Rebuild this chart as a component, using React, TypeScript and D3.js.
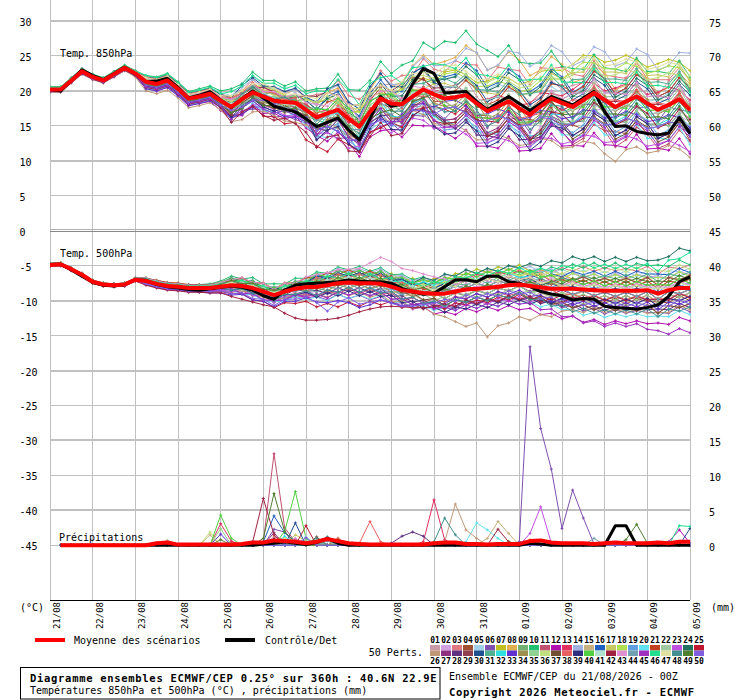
import * as d3 from "d3";
import React from "react";

// forecast steps, hours after 21/08 00Z
const hours = [0, 6, 12, 18, 24, 30, 36, 42, 48, 54, 60, 66, 72, 78, 84, 90, 96, 102, 108, 114, 120, 126, 132, 138, 144, 150, 156, 162, 168, 174, 180, 186, 192, 198, 204, 210, 216, 222, 228, 234, 240, 246, 252, 258, 264, 270, 276, 282, 288, 294, 300, 306, 312, 318, 324, 330, 336, 342, 348, 354, 360];
const dayHours = [0, 24, 48, 72, 96, 120, 144, 168, 192, 216, 240, 264, 288, 312, 336, 360];
const dayLabels = ["21/08", "22/08", "23/08", "24/08", "25/08", "26/08", "27/08", "28/08", "29/08", "30/08", "31/08", "01/09", "02/09", "03/09", "04/09", "05/09"];
const leftTicks = [30, 25, 20, 15, 10, 5, 0, -5, -10, -15, -20, -25, -30, -35, -40, -45];
const rightTicks = [75, 70, 65, 60, 55, 50, 45, 40, 35, 30, 25, 20, 15, 10, 5, 0];

const memberColors = [
  "#c89aa8", "#d0a0e0", "#e07880", "#a05030", "#a0d0e8", "#8050b0", "#c0c020", "#e0b050", "#70b070", "#20c070",
  "#c05070", "#b010b0", "#e03060", "#a0b0e0", "#c8b080", "#2060c0", "#c8c860", "#b0e050", "#60a0e0", "#60e0f0",
  "#c04020", "#a0c8a0", "#c050e0", "#207060", "#c01830", "#c09878", "#903080", "#603080", "#904050", "#205090",
  "#50b090", "#30e0e0", "#6030d0", "#a09050", "#90d090", "#c0e080", "#705030", "#e86060", "#303080", "#50d040",
  "#b0e0d0", "#a02040", "#e090d0", "#70a0b0", "#a030c0", "#20e090", "#e0e0a0", "#409090", "#508030", "#8060e0",
];

// 850 hPa temperature (°C)
const mean850 = [20.2, 20.2, 21.5, 22.8, 22, 21.5, 22.4, 23.3, 22.5, 21.3, 21, 21.5, 20.3, 18.9, 19.2, 19.6, 18.6, 17.7, 18.8, 19.8, 19.2, 18.6, 18.4, 18.3, 17.3, 16.2, 16.8, 17.3, 16, 14.9, 17, 18.9, 18.2, 18.1, 19.2, 20.2, 19.5, 18.9, 19.1, 19.4, 18.2, 17.1, 17.8, 18.5, 17.5, 16.6, 17.8, 18.9, 18.3, 17.7, 18.7, 19.7, 18.7, 17.7, 18.5, 19.2, 18.2, 17.3, 18, 18.8, 17.3];
const ctrl850 = [20.2, 20, 21.5, 23, 22.2, 21.6, 22.5, 23.4, 22.4, 21.3, 21.4, 21.8, 20.5, 19, 19.4, 19.9, 18.7, 17.6, 18.9, 20, 19, 17.8, 17.4, 17, 16, 14.9, 15.5, 16.1, 14.4, 13, 16, 19.2, 17.8, 18.1, 21, 23.2, 22.5, 19.7, 19.8, 19.9, 18.5, 17.3, 18.3, 19.2, 18.2, 17.2, 18.2, 19.2, 18.6, 18, 19, 19.9, 17, 14.9, 15, 14.2, 13.9, 13.7, 14, 16.2, 13.9];
const members850 = [
  [20.3, 20.2, 21.6, 22.9, 22.2, 21.6, 22.5, 23.4, 22.6, 21.6, 21.4, 21.8, 20.6, 19.2, 19.5, 19.9, 19, 18.6, 19.4, 20.9, 19.8, 19.7, 19.1, 19.5, 18.7, 18.5, 18.5, 20.3, 18.3, 16.2, 19.4, 20.8, 21, 20.3, 20.6, 22.9, 21, 19.7, 20.9, 21.6, 19.2, 17.6, 19.9, 20.4, 19.8, 18.4, 19.1, 21.5, 20.2, 20.8, 21.2, 23.4, 21.5, 19.8, 21.9, 22.4, 21.8, 19.4, 21.4, 22.6, 20.1],
  [20, 20, 21.3, 22.6, 21.8, 21.3, 22.2, 23.1, 22.3, 20.8, 20.6, 21, 19.8, 18.4, 18.6, 19.1, 17.9, 17.1, 17.6, 18.9, 17.9, 17.7, 17, 17.2, 15.3, 13.6, 14.8, 14.6, 13.9, 12, 14.1, 16.8, 15.2, 16.4, 16.1, 17.9, 15.8, 16, 15, 16.5, 14.1, 13.9, 13.7, 15.6, 14.5, 12.7, 14.9, 15.2, 16.4, 15.1, 17.2, 17.2, 17.5, 15.3, 16, 17.9, 16.6, 15, 16.5, 16.4, 15.6],
  [20.4, 20.3, 21.7, 23, 22.2, 21.7, 22.6, 23.5, 22.8, 21.8, 21.6, 22.2, 21, 19.6, 19.8, 20.3, 19.5, 19.2, 20, 21.6, 20.5, 20.4, 19.8, 20.3, 19.1, 19.5, 19.7, 21.5, 19.3, 18.8, 20.2, 22.9, 21.4, 22.2, 22.3, 24.6, 23.1, 22.7, 24.3, 23.8, 23.7, 21.5, 23.4, 23.1, 22.9, 20.9, 23.3, 23.2, 23.4, 22.4, 22.1, 24.3, 22.3, 22, 21.8, 24, 21.7, 21.6, 21.6, 23.3, 21.5],
  [20.1, 20.1, 21.4, 22.7, 21.9, 21.4, 22.3, 23.2, 22.4, 21, 20.7, 21.3, 20, 18.6, 19, 19.4, 18.4, 17.6, 19.3, 19.8, 19.7, 18.6, 18.9, 18.2, 17.9, 17.1, 16.9, 18.5, 16, 15.9, 17, 19.9, 18.1, 18.9, 19, 20.6, 18.5, 18.5, 17.5, 18.9, 16.5, 16.5, 16.1, 18, 15.8, 15.9, 15.6, 17.6, 15.3, 15.1, 14.6, 16.4, 14.3, 14.2, 13.9, 15.7, 13.8, 13.9, 13.5, 15.5, 12.9],
  [20.5, 20.5, 21.8, 23.1, 22.3, 21.8, 22.8, 23.6, 22.8, 22, 21.8, 22.3, 21.2, 19.7, 20, 20.5, 19.8, 19.3, 21.1, 22.1, 21, 20.3, 20.5, 19.7, 18.6, 17.9, 18.6, 17.8, 16.4, 16.3, 18.7, 19.3, 18.8, 19.9, 21.1, 21, 20.4, 21.6, 22.2, 21.4, 20.2, 20.1, 21, 20.4, 19.4, 19.8, 20.8, 20.6, 19.7, 19.6, 20.4, 20.1, 19.1, 19.2, 20, 19.6, 18.5, 18.8, 19.7, 19.3, 17.7],
  [20.2, 20.1, 21.5, 22.8, 22, 21.4, 22.3, 23.2, 22.3, 20.7, 20.3, 20.6, 19.5, 18.1, 18.4, 18.7, 17.6, 16, 17.2, 17.4, 17.4, 16.2, 16.5, 15.9, 15.4, 13, 14.1, 13.2, 13.3, 11.2, 14.1, 14.9, 15.5, 14, 16.5, 16.4, 17.1, 16, 17.6, 17, 16.9, 14.7, 16.6, 15.9, 16.2, 14, 16.7, 16.7, 17.6, 16, 18.1, 18, 18.4, 16.2, 18, 17.5, 17.7, 15.6, 17.7, 17.3, 17],
  [19.9, 19.9, 21.2, 22.5, 21.7, 21.2, 22.1, 23, 22.2, 21.3, 21.2, 21.8, 20.5, 19.1, 19.4, 19.8, 18.9, 18.4, 19.1, 20, 20, 19.4, 18.6, 18.6, 18.8, 18.2, 18.9, 18.2, 16.9, 17.1, 19.1, 19.8, 19.3, 20.5, 21.8, 21.8, 21.4, 22.7, 23, 22.3, 21.2, 21.4, 22.1, 21.8, 20.9, 21.4, 22.8, 23, 22.9, 23.8, 25.1, 25, 24.1, 24.4, 25.1, 24.4, 23.4, 23.9, 24.5, 24.1, 22.9],
  [20.4, 20.4, 21.7, 23, 22.2, 21.7, 22.6, 23.5, 22.7, 21.8, 21.5, 22, 20.8, 19.4, 19.7, 20.1, 19.2, 18.3, 20, 21.1, 20.1, 20.1, 19.5, 20.2, 19, 18, 19.8, 20.4, 18, 17, 20.2, 22.4, 20.8, 21.2, 23.6, 25.1, 23.8, 24.2, 24.8, 26.5, 25.4, 23, 23.6, 25.6, 24.4, 22.2, 23, 24.9, 23.8, 21.2, 21.7, 23.6, 22.6, 20.2, 20.8, 23, 21.8, 19.7, 20.5, 22.5, 21],
  [20.2, 20.2, 21.5, 22.8, 22, 21.5, 22.4, 23.3, 22.5, 21.1, 20.8, 21.3, 20.1, 18.7, 19, 19.4, 18.3, 17.4, 18, 19.5, 18.4, 18.3, 17.6, 18.1, 16.4, 15.8, 15.4, 17, 15.5, 13.3, 16.5, 17.5, 17.9, 17.1, 19.3, 19.5, 20.1, 19.8, 19.1, 20.4, 18.3, 18.2, 17.8, 19.5, 17.6, 17.7, 18, 20, 18.8, 19.6, 19.8, 21.7, 19.7, 19.8, 19.5, 21.1, 19.2, 19.3, 19, 20.9, 18.2],
  [20.6, 20.6, 21.9, 23.2, 22.4, 21.9, 22.8, 23.7, 22.9, 22.2, 22, 22.5, 21.3, 19.9, 20.3, 20.7, 20, 20.3, 21, 22.7, 21.5, 21.5, 20.7, 21.3, 20, 20.3, 20.4, 22.4, 20.2, 20.1, 21.5, 24.2, 22.5, 23.7, 24.3, 26.9, 26, 27.1, 26.9, 28.6, 26.7, 25.8, 24.9, 26.5, 24.1, 23.9, 24, 25.7, 23.5, 23.2, 23.1, 25.2, 23.3, 23.1, 22.8, 24.7, 22.8, 22.8, 22.5, 24.3, 22],
  [20, 20.1, 21.3, 22.6, 21.8, 21.3, 22.2, 23.1, 22.3, 21.3, 21, 21.5, 20.3, 18.9, 19.1, 19.4, 18.2, 16.7, 18.3, 19.2, 18, 17.4, 17.8, 17.1, 16.4, 14.3, 15.7, 16.4, 13.9, 12.8, 16, 17.9, 16, 15.8, 18, 19, 16.8, 15.8, 16, 17.3, 15.9, 13.7, 14.4, 16.1, 14.9, 12.6, 13.5, 15.2, 14.2, 12.3, 13.2, 15.2, 14.3, 12, 13, 14.8, 13.8, 11.8, 12.4, 14.4, 12.8],
  [19.9, 19.9, 21.2, 22.4, 21.7, 21.2, 22, 22.9, 22.1, 20.4, 20, 20.5, 19.3, 17.9, 18.2, 18.5, 17.2, 16.2, 16.5, 18, 16.8, 16.8, 16, 16.4, 14.7, 13.6, 12.8, 14.1, 12.6, 10.6, 13.4, 14.3, 14.5, 13.4, 15.1, 15, 15, 14.1, 13.2, 14.4, 12.1, 12.1, 11.8, 13.5, 11.4, 11.5, 11.8, 13.9, 12.1, 12.2, 12.1, 14, 12.3, 12.2, 11.9, 13.8, 11.7, 11.8, 11.5, 13.2, 11],
  [20.3, 20.3, 21.6, 22.9, 22.1, 21.6, 22.5, 23.4, 22.7, 21.7, 21.4, 21.9, 20.7, 19.3, 19.6, 20, 19, 18.9, 19.5, 20.5, 20.5, 19.8, 18.8, 18.6, 18, 16.9, 17.3, 16.6, 15.5, 15.4, 17.5, 18.2, 17.6, 18.9, 20.1, 20.1, 19.8, 20.4, 20.8, 19.8, 18.6, 18.8, 19.4, 18.8, 18, 18.2, 19.7, 19.6, 19.3, 20.2, 21.3, 21.1, 20, 20.4, 21, 20.7, 19.5, 19.8, 20.6, 20.1, 18.7],
  [20.4, 20.4, 21.7, 23, 22.2, 21.7, 22.6, 23.5, 22.8, 21.9, 21.6, 22.1, 20.9, 19.5, 19.8, 20.2, 19.3, 18.6, 20.5, 21.6, 20.5, 20.4, 19.7, 20.2, 19.1, 18.1, 20, 20.8, 18.4, 17.4, 20.6, 22.5, 20.9, 21, 23.5, 24.8, 23.6, 23.7, 24.3, 26.1, 25.5, 23, 23.7, 25.7, 25.4, 23.5, 24.4, 26.5, 25.6, 23.6, 24.3, 26.3, 25.6, 23.6, 24.1, 26, 25.2, 23, 23.6, 25.5, 25.4],
  [20.1, 20.1, 21.4, 22.7, 21.9, 21.4, 22.3, 23.2, 22.4, 20.9, 20.6, 21.1, 19.9, 18.5, 18.8, 19.1, 18, 16.9, 17.4, 18.8, 17.7, 17.7, 16.8, 17.3, 15.6, 14.8, 14.3, 15.9, 14.5, 12.4, 15.5, 16.5, 16.7, 15.6, 17.8, 17.7, 18.3, 17.8, 17.1, 18.5, 16.3, 16.1, 15.7, 17.5, 15.5, 15.5, 15.9, 18, 16.7, 17.3, 17.6, 19.6, 17.8, 17.6, 17.5, 19.3, 17.2, 17.3, 17.1, 18.8, 16.3],
  [20.4, 20.4, 21.7, 23, 22.2, 21.7, 22.6, 23.5, 22.7, 21.6, 21.3, 21.8, 20.6, 19.2, 19.5, 19.9, 18.9, 18, 19.7, 20.7, 19.5, 18.9, 19.3, 18.6, 18.7, 17.3, 19.2, 19.9, 17.5, 16.4, 19.6, 21.6, 19.7, 20, 22.4, 23.6, 22.4, 22, 22.4, 24, 22.9, 20.5, 21.2, 23.1, 22.1, 19.9, 20.9, 23.2, 22, 19.8, 20.7, 22.9, 21.8, 19.5, 20.4, 22.4, 21.3, 19.2, 19.9, 21.9, 20.4],
  [20.2, 20.2, 21.5, 22.8, 22, 21.5, 22.4, 23.3, 22.5, 21.4, 21.1, 21.6, 20.4, 19, 19.3, 19.7, 18.6, 17.6, 18.2, 19.7, 18.6, 18.6, 17.8, 18.3, 16.8, 17, 16.8, 18.4, 17, 14.9, 18, 18.9, 19.2, 18.1, 20.2, 20.3, 21, 21.1, 20.5, 22, 19.9, 19.7, 19.5, 21.1, 19.3, 19.7, 20.1, 22.5, 21.7, 22.6, 22.7, 24.7, 22.7, 22.7, 22.5, 24.2, 22.2, 22.3, 22, 23.8, 21.3],
  [20.3, 20.3, 21.6, 22.9, 22.1, 21.6, 22.5, 23.4, 22.6, 21.8, 21.5, 22, 20.8, 19.4, 19.7, 20.1, 19.1, 19.1, 19.7, 20.7, 20.7, 20.1, 19.3, 19.2, 18.9, 18.3, 18.9, 18.2, 16.9, 17, 19.1, 19.8, 19.1, 20.2, 21.5, 21.6, 21.1, 22.4, 22.7, 21.8, 20.6, 20.7, 21.4, 20.9, 19.9, 20.2, 21.5, 21.7, 21.7, 22.9, 24.1, 24, 23.2, 23.1, 24, 23.5, 22.5, 22.9, 23.6, 23.3, 21.7],
  [20, 20, 21.3, 22.6, 21.8, 21.3, 22.2, 23.1, 22.3, 20.7, 20.4, 20.9, 19.7, 18.3, 18.6, 19, 17.9, 16, 17.6, 18.5, 17.4, 16.8, 17.2, 16.5, 16, 13.4, 14.8, 15.3, 12.8, 11.8, 15.1, 17, 15, 15, 17.2, 18.2, 15.8, 14.4, 14.6, 15.9, 14.8, 12.5, 13.2, 15.1, 14.1, 12, 13.2, 15.5, 15, 14, 15.1, 17.3, 16.3, 14.1, 14.9, 16.8, 15.8, 13.7, 14.4, 16.4, 14.9],
  [19.9, 19.9, 21.2, 22.5, 21.7, 21.2, 22.1, 23, 22.2, 20.4, 20.1, 20.6, 19.4, 18, 18.3, 18.7, 17.7, 16.1, 16.7, 18.2, 17.1, 17.1, 16.3, 16.8, 15, 13.6, 13.3, 14.9, 13.5, 11.4, 14.5, 15.4, 15.7, 14.6, 16.7, 16.7, 16.5, 15.9, 15.1, 16.4, 14.2, 14.1, 13.8, 15.5, 13.5, 13.6, 13.7, 15.7, 13.7, 13.7, 13.6, 15.5, 13.7, 13.7, 13.5, 15.2, 13.2, 13.3, 13, 14.8, 12.3],
  [20.3, 20.3, 21.6, 22.9, 22.1, 21.6, 22.5, 23.4, 22.6, 21.5, 21.2, 21.7, 20.5, 19.1, 19.4, 19.8, 18.8, 17.8, 19.5, 20.5, 19.3, 18.7, 19.1, 18.4, 18.2, 16.7, 18.4, 18.9, 16.4, 15.4, 18.6, 20.5, 18.6, 18.6, 20.8, 21.8, 19.9, 19.7, 20, 21.5, 20.3, 18, 18.7, 20.6, 19.6, 17.5, 18.7, 21, 20.8, 19.7, 20.6, 22.8, 21.8, 19.6, 20.4, 22.3, 21.3, 19.2, 19.9, 21.9, 20.4],
  [20.2, 20.2, 21.5, 22.8, 22, 21.5, 22.4, 23.3, 22.5, 21, 20.7, 21.2, 20, 18.6, 18.9, 19.3, 18.3, 17.3, 17.9, 19.4, 18.3, 18.3, 17.5, 18, 16.5, 16.1, 15.8, 17.4, 16, 13.9, 17, 17.9, 18.2, 17.1, 19.2, 19.2, 19.8, 19.9, 19.1, 20.4, 18.2, 18.1, 17.8, 19.5, 17.5, 17.6, 17.8, 19.9, 18.3, 19.2, 19.2, 21.2, 19.2, 19.2, 19, 20.7, 18.7, 18.8, 18.5, 20.3, 17.8],
  [20, 20, 21.3, 22.6, 21.8, 21.3, 22.2, 23.1, 22.3, 20.6, 20.3, 20.8, 19.6, 18.2, 18.5, 18.9, 17.8, 16.5, 17, 18, 18, 17.4, 16.5, 16.4, 15.8, 13.9, 14, 13.1, 11.8, 12.1, 14.1, 14.8, 14, 15, 16.1, 15.8, 14.6, 14.8, 14.7, 13.8, 12.5, 12.6, 13.3, 12.9, 11.9, 12.1, 13.3, 13.2, 12.4, 12.8, 13.7, 13.5, 12.6, 12.8, 13.6, 13.1, 12.1, 12.4, 12.9, 12.2, 11.3],
  [20.5, 20.5, 21.8, 23.1, 22.3, 21.8, 22.7, 23.6, 22.8, 21.9, 21.6, 22.1, 20.9, 19.5, 19.8, 20.2, 19.2, 18.2, 19.8, 20.9, 19.7, 19.6, 18.9, 19.4, 18.6, 17.3, 18.9, 19.5, 16.9, 15.9, 19.1, 21, 19.2, 19.3, 21.6, 22.9, 21.4, 21.7, 22, 23.5, 22.3, 20, 20.7, 22.6, 21.6, 19.4, 20.6, 22.8, 21.7, 19.2, 20.1, 22.3, 21.3, 19.1, 19.9, 21.8, 20.8, 18.7, 19.4, 21.4, 19.9],
  [20.1, 20.1, 21.4, 22.7, 21.9, 21.4, 22.3, 23.2, 22.4, 20.8, 20.5, 21, 19.8, 18.4, 18.7, 19.1, 17.9, 16.4, 16.7, 17.8, 16.4, 16.3, 15.3, 15.5, 13, 12.1, 11.3, 13.1, 12.3, 11.3, 14.1, 14.7, 15.5, 14.8, 17.3, 17.5, 17.8, 17.4, 16.7, 18, 15.8, 15.7, 15.5, 17.2, 15.2, 15.4, 15.9, 18.3, 17.2, 18, 18.3, 20.4, 18.5, 18.5, 18.3, 20, 18, 18.1, 17.8, 19.6, 17.1],
  [19.8, 19.8, 21.1, 22.4, 21.6, 21.1, 22, 22.9, 22, 20, 19.6, 20.1, 19, 17.6, 17.9, 18.3, 17.3, 15.6, 15.9, 17, 17.1, 16.5, 15.7, 15.5, 15.1, 14.7, 15.4, 14.7, 13.4, 13.5, 15.6, 16.3, 15.5, 16.4, 17.2, 16.6, 15.3, 15.2, 15.2, 14.3, 13, 13, 13.7, 13.2, 12.2, 12.4, 13.2, 12.9, 11.8, 12, 12.8, 12.5, 11, 9.9, 11.6, 12, 11.1, 11.4, 12.2, 11.7, 10.5],
  [20.2, 20.2, 21.5, 22.8, 22, 21.5, 22.4, 23.3, 22.5, 21.6, 21.3, 21.8, 20.6, 19.2, 19.5, 19.9, 18.8, 17.4, 19.1, 20.1, 18.8, 18.1, 18.4, 17.6, 16.9, 14.3, 15.9, 16.4, 13.9, 12.9, 16.1, 18, 16.1, 16, 18.3, 19.2, 16.8, 15.8, 16, 17.5, 16.3, 14, 14.7, 16.6, 15.4, 13.3, 14.2, 16.4, 15.6, 13.6, 14.5, 16.8, 15.8, 13.6, 14.4, 16.3, 15.3, 13.2, 13.9, 15.9, 14.4],
  [20, 20, 21.3, 22.6, 21.8, 21.3, 22.2, 23.1, 22.3, 20.8, 20.5, 21, 19.8, 18.4, 18.7, 19.1, 18, 16.9, 17.5, 19, 17.9, 17.9, 17, 17.5, 15.7, 14.6, 14.3, 15.9, 14.5, 12.4, 15.5, 16.4, 16.6, 15.4, 17.3, 17.2, 16.9, 15.6, 14.6, 15.9, 13.7, 13.6, 13.3, 15, 13, 13.1, 13.4, 15.5, 14.3, 15.5, 15.7, 17.7, 15.7, 15.7, 15.5, 17.2, 15.2, 15.3, 15, 16.8, 14.3],
  [20.3, 20.3, 21.6, 22.9, 22.1, 21.6, 22.5, 23.4, 22.6, 21.5, 21.2, 21.7, 20.5, 19.1, 19.4, 19.8, 18.9, 18.8, 19.4, 20.5, 20.5, 19.9, 19.1, 19, 19.3, 19.2, 19.9, 19.2, 17.9, 18, 20.1, 20.8, 20, 21, 22, 21.6, 20.4, 20.5, 20.7, 19.8, 18.6, 18.7, 19.2, 18.6, 17.4, 17.5, 18.4, 18, 17, 17.3, 18.3, 18.1, 17.1, 17.3, 18.1, 17.6, 16.6, 16.9, 17.6, 17.2, 15.7],
  [20.4, 20.4, 21.7, 23, 22.2, 21.7, 22.6, 23.5, 22.7, 22, 21.8, 22.3, 21.1, 19.7, 20, 20.4, 19.5, 19, 20.8, 21.9, 20.7, 20.6, 19.9, 20.4, 19.1, 18.4, 20.3, 20.9, 18.4, 17.4, 20.6, 22.5, 20.6, 20.6, 22.6, 23.4, 21.2, 20.5, 20.6, 22, 20.8, 18.5, 19.2, 21.1, 20.1, 18, 19, 21.2, 20.6, 18.7, 19.6, 21.8, 20.8, 18.6, 19.4, 21.3, 20.3, 18.2, 18.9, 20.9, 19.4],
  [20.2, 20.2, 21.5, 22.8, 22, 21.5, 22.4, 23.3, 22.5, 21.1, 20.8, 21.3, 20.1, 18.7, 19, 19.4, 18.4, 18.2, 18.8, 20.3, 19.2, 19.2, 18.4, 18.9, 17.5, 17.6, 17.3, 18.9, 17.5, 15.4, 18.5, 19.4, 19.7, 18.6, 20.9, 21.1, 21.7, 21.8, 21.1, 22.4, 20.2, 20.1, 19.8, 21.5, 19.5, 19.6, 19.9, 22.1, 20.6, 21.6, 21.7, 23.7, 21.7, 21.7, 21.5, 23.2, 21.2, 21.3, 21, 22.8, 20.3],
  [20, 20, 21.3, 22.6, 21.8, 21.3, 22.2, 23.1, 22.3, 20.5, 20.2, 20.7, 19.5, 18.1, 18.4, 18.8, 17.8, 15.9, 17.6, 18.6, 17.4, 16.8, 17.2, 16.5, 16.3, 14.6, 16.4, 16.9, 14.4, 13.4, 16.6, 18.5, 16.4, 16.2, 18.2, 18.9, 16.4, 15.3, 15.5, 17, 15.8, 13.5, 14.2, 16.1, 15.1, 13, 14.3, 16.7, 16.6, 15.4, 16.6, 18.8, 17.8, 15.6, 16.4, 18.3, 17.3, 15.2, 15.9, 17.9, 16.4],
  [19.9, 19.9, 21.2, 22.5, 21.7, 21.2, 22.1, 23, 22.2, 20.3, 20, 20.5, 19.3, 17.9, 18.2, 18.6, 17.6, 16.2, 16.7, 17.7, 17.7, 17.1, 16.3, 16.2, 15.6, 14.5, 14.9, 14.2, 12.9, 13, 15.1, 16, 15.4, 16.7, 18, 18.2, 17.7, 18.5, 18.7, 17.8, 16.6, 16.7, 17.4, 16.9, 15.9, 16.2, 17.2, 17, 16, 16.3, 17.3, 17.1, 16.1, 16.3, 17.1, 16.6, 15.6, 15.9, 16.6, 16.2, 14.7],
  [20.3, 20.3, 21.6, 22.9, 22.1, 21.6, 22.5, 23.4, 22.6, 21.3, 21, 21.5, 20.3, 18.9, 19.2, 19.6, 18.5, 16.9, 18.6, 19.6, 18.4, 17.8, 18.2, 17.5, 16.9, 14.4, 15.9, 16.4, 13.9, 12.9, 16.1, 18, 16.1, 16.2, 18.5, 19.8, 18.2, 17.8, 18, 19.5, 18.3, 16, 16.7, 18.6, 17.6, 15.5, 16.7, 19, 18.4, 17.1, 18.1, 20.3, 19.3, 17.1, 17.9, 19.8, 18.8, 16.7, 17.4, 19.4, 17.9],
  [20.4, 20.4, 21.7, 23, 22.2, 21.7, 22.6, 23.5, 22.7, 21.7, 21.4, 21.9, 20.7, 19.3, 19.6, 20, 19, 18.7, 19.3, 20.8, 19.7, 19.7, 18.9, 19.4, 17.7, 17.1, 16.8, 18.4, 17, 14.9, 18, 18.9, 19.1, 17.9, 19.9, 19.7, 19.5, 18.4, 17.6, 18.9, 16.7, 16.6, 16, 17.5, 15.3, 15.3, 15.3, 17.2, 15.5, 15.7, 15.7, 17.7, 15.7, 15.7, 15.5, 17.2, 15.2, 15.3, 15, 16.8, 14.3],
  [20.2, 20.2, 21.5, 22.8, 22, 21.5, 22.4, 23.3, 22.5, 21.6, 21.3, 21.8, 20.6, 19.2, 19.5, 19.9, 18.9, 18.5, 19, 20, 20, 19.4, 18.6, 18.5, 18.7, 18.4, 19.3, 18.7, 17.4, 17.5, 19.6, 20.3, 19.6, 20.9, 22.1, 22.2, 21.8, 23, 23.2, 22.3, 21.1, 21.2, 21.9, 21.4, 20.4, 20.7, 22, 22, 21.5, 22.3, 23.3, 23.1, 22.1, 22.3, 23.1, 22.6, 21.6, 21.9, 22.6, 22.2, 20.7],
  [20.1, 20.1, 21.4, 22.7, 21.9, 21.4, 22.3, 23.2, 22.4, 21, 20.7, 21.2, 20, 18.6, 18.9, 19.3, 18.1, 16.6, 18.3, 19.3, 18.1, 17.5, 17.9, 17.2, 16.5, 13.7, 15.4, 15.9, 13.4, 12.4, 15.6, 17.5, 15.6, 15.6, 17.7, 18.7, 16.6, 15.4, 15.5, 17, 15.8, 13.5, 14.2, 16.1, 15.1, 13, 13.9, 16, 15.2, 13.1, 14.1, 16.3, 15.3, 13.1, 13.9, 15.8, 14.8, 12.7, 13.4, 15.4, 13.9],
  [20.5, 20.5, 21.8, 23.1, 22.3, 21.8, 22.7, 23.6, 22.8, 22, 21.7, 22.2, 21, 19.6, 19.9, 20.3, 19.2, 19, 19.7, 21.2, 19.9, 19.7, 18.7, 19, 17.2, 16.6, 16.3, 17.9, 16.5, 14.4, 17.5, 18.4, 18.7, 17.5, 19.4, 19.2, 19, 17.9, 17.1, 18.4, 16.2, 16.1, 16, 18, 16.1, 16.4, 16.8, 19.2, 18, 18.7, 18.7, 20.7, 18.7, 18.7, 18.5, 20.2, 18.2, 18.3, 18, 19.8, 17.3],
  [20, 20, 21.3, 22.6, 21.8, 21.3, 22.2, 23.1, 22.3, 20.7, 20.4, 20.9, 19.7, 18.3, 18.6, 19, 17.9, 16.2, 17.9, 18.9, 17.7, 17.1, 17.5, 16.8, 16.2, 13, 14.4, 14.9, 12.4, 11.4, 14.6, 16.5, 14.5, 14.4, 16.5, 17.4, 14.9, 13.8, 14, 15.5, 14.3, 12, 12.7, 14.6, 13.6, 11.5, 12.7, 15, 14.7, 13.6, 14.6, 16.8, 15.8, 13.6, 14.4, 16.3, 15.3, 13.2, 13.9, 15.9, 14.4],
  [20.3, 20.3, 21.6, 22.9, 22.1, 21.6, 22.5, 23.4, 22.6, 21.5, 21.2, 21.7, 20.5, 19.1, 19.4, 19.8, 18.8, 17.9, 18.5, 20, 18.9, 18.9, 18.1, 18.6, 17.3, 17.4, 17.3, 18.9, 17.5, 15.4, 18.5, 19.4, 19.5, 18.2, 20.1, 19.9, 19.5, 17.9, 17.1, 18.4, 16.2, 16.1, 15.8, 17.5, 15.5, 15.6, 15.9, 18, 16.8, 17.7, 17.7, 19.7, 17.7, 17.7, 17.5, 19.2, 17.2, 17.3, 17, 18.8, 16.3],
  [20.2, 20.2, 21.5, 22.8, 22, 21.5, 22.4, 23.3, 22.5, 21.2, 20.9, 21.4, 20.2, 18.8, 19.1, 19.5, 18.5, 18.2, 18.7, 19.7, 19.7, 19, 18.1, 17.9, 17.3, 16.3, 16.9, 16.2, 14.9, 15, 17.1, 17.8, 17.2, 18.4, 19.7, 19.8, 19.6, 20.5, 20.7, 19.8, 18.6, 18.7, 19.2, 18.6, 17.4, 17.6, 18.4, 18, 17, 17.3, 18.3, 18.1, 17.1, 17.3, 18.1, 17.6, 16.6, 16.9, 17.6, 17.2, 15.7],
  [19.9, 19.9, 21.2, 22.5, 21.7, 21.2, 22.1, 23, 22.2, 20.5, 20.2, 20.7, 19.5, 18.1, 18.4, 18.8, 17.6, 15.5, 17, 17.8, 16.5, 15.8, 16.1, 15.3, 14.1, 11.9, 13.4, 13.7, 11.4, 11.3, 13.5, 15.5, 13.6, 13.9, 16.4, 17.6, 15.7, 15.3, 15.5, 17, 15.8, 13.5, 14.2, 16.1, 15.1, 13, 14.4, 17, 16.7, 15.2, 16.1, 18.3, 17.3, 15.1, 15.9, 17.8, 16.8, 14.7, 15.4, 17.4, 15.9],
  [20.4, 20.4, 21.7, 23, 22.2, 21.7, 22.6, 23.5, 22.7, 21.8, 21.5, 22, 20.8, 19.4, 19.7, 20.1, 19.1, 18.8, 19.5, 21, 19.9, 19.9, 19.1, 19.6, 18.3, 18.1, 17.8, 19.4, 18, 15.9, 19, 19.9, 20.1, 18.8, 20.7, 20.4, 20.1, 19.4, 18.6, 19.9, 17.7, 17.6, 17.3, 19, 17, 17.1, 17.6, 20, 18.8, 19.7, 19.7, 21.7, 19.7, 19.7, 19.5, 21.2, 19.2, 19.3, 19, 20.8, 18.3],
  [20.1, 20.1, 21.4, 22.7, 21.9, 21.4, 22.3, 23.2, 22.4, 21.1, 20.8, 21.3, 20.1, 18.7, 19, 19.4, 18.4, 17.5, 18, 19, 19, 18.4, 17.6, 17.5, 17.1, 15.8, 16.4, 15.7, 14.4, 14.5, 16.6, 17.3, 16.6, 17.7, 18.8, 18.6, 17.4, 17.5, 17.7, 16.8, 15.6, 15.7, 16.4, 15.9, 14.9, 15.2, 16.4, 16.3, 15.3, 15.3, 16.3, 16.1, 15.1, 15.3, 16.1, 15.6, 14.6, 14.9, 15.6, 15.2, 13.7],
  [20, 20, 21.3, 22.6, 21.8, 21.3, 22.2, 23.1, 22.3, 20.6, 20.3, 20.8, 19.6, 18.2, 18.5, 18.9, 17.9, 15.9, 17.6, 18.6, 17.4, 16.8, 17.2, 16.5, 15.9, 13.7, 15.4, 15.9, 13.4, 12.4, 15.6, 17.5, 15.6, 15.6, 17.6, 18.4, 15.8, 14.8, 15, 16.5, 15.3, 13, 13.7, 15.6, 14.6, 12.5, 13.2, 15.2, 14.1, 12.6, 13.6, 15.8, 14.8, 12.6, 13.4, 15.3, 14.3, 12.2, 12.9, 14.9, 13.4],
  [20.5, 20.5, 21.8, 23.1, 22.3, 21.8, 22.7, 23.6, 22.8, 22.2, 21.9, 22.4, 21.2, 19.8, 20.1, 20.5, 19.6, 19.9, 20.7, 22.2, 21.1, 21.1, 20.3, 20.8, 19.6, 20, 19.9, 21.6, 20.1, 18, 21.1, 21.9, 22.2, 21.1, 23.3, 23.5, 23.9, 23.7, 23.2, 24.7, 22.4, 22.2, 21.8, 23.7, 21.5, 21.6, 21.7, 23.7, 21.3, 21.2, 21.2, 23.2, 21.2, 21.2, 21, 22.7, 20.7, 20.8, 20.5, 22.3, 19.8],
  [20.3, 20.3, 21.6, 22.9, 22.1, 21.6, 22.5, 23.4, 22.6, 21.9, 21.6, 22.1, 20.9, 19.5, 19.8, 20.2, 19.3, 19.3, 20, 21, 21, 20.4, 19.6, 19.5, 19.2, 18.9, 19.8, 19.2, 17.9, 18, 20.1, 20.8, 20.1, 21.3, 22.5, 22.6, 22.4, 23.5, 23.7, 22.8, 21.6, 21.7, 22.4, 21.9, 20.9, 21.2, 22.9, 23.3, 23, 23.8, 24.8, 24.6, 23.6, 23.8, 24.6, 24.1, 23.1, 23.4, 24.1, 23.7, 22.2],
  [20.2, 20.2, 21.5, 22.8, 22, 21.5, 22.4, 23.3, 22.5, 21.3, 21, 21.5, 20.3, 18.9, 19.2, 19.6, 18.7, 17.8, 19.6, 20.6, 19.4, 18.8, 19.1, 18.3, 17.6, 15.2, 16.9, 17.4, 14.9, 13.9, 17.1, 19, 17.1, 17.1, 19.2, 20.2, 18, 17, 17.1, 18.5, 17.3, 15, 15.7, 17.6, 16.6, 14.5, 15.7, 18, 17.8, 16.1, 17.1, 19.3, 18.3, 16.1, 16.9, 18.8, 17.8, 15.7, 16.4, 18.4, 16.9],
  [20.1, 20.1, 21.4, 22.7, 21.9, 21.4, 22.3, 23.2, 22.4, 20.9, 20.6, 21.1, 19.9, 18.5, 18.8, 19.2, 18.1, 16.9, 17.5, 19, 17.9, 17.9, 17.1, 17.6, 15.7, 15.1, 14.8, 16.4, 15, 12.9, 16, 16.9, 17.3, 16.3, 18.5, 19, 19.6, 19.4, 18.6, 19.9, 17.7, 17.6, 17.3, 19, 17, 17.1, 16.9, 18.6, 16.6, 16.7, 16.7, 18.7, 16.7, 16.7, 16.5, 18.2, 16.2, 16.3, 16, 17.8, 15.3],
  [20, 20, 21.3, 22.6, 21.8, 21.3, 22.2, 23.1, 22.3, 20.8, 20.5, 21, 19.8, 18.4, 18.7, 19.1, 18, 17.2, 17.7, 18.7, 18.7, 18.1, 17.3, 17.2, 16.2, 14.3, 14.9, 14.2, 12.9, 13, 15.1, 15.8, 15.1, 16.2, 17.3, 17.1, 16.7, 17.5, 17.7, 16.8, 15.6, 15.7, 16.4, 15.9, 14.9, 15.2, 16.2, 16, 14.9, 15.3, 16.3, 16.1, 15.1, 15.3, 16.1, 15.6, 14.6, 14.9, 15.6, 15.2, 13.7],
];

// 500 hPa temperature (°C)
const mean500 = [-4.9, -4.8, -5.5, -6.3, -7.3, -7.7, -7.8, -7.7, -7, -7.2, -7.6, -7.9, -8, -8.2, -8.2, -8.2, -8, -7.8, -7.9, -8.2, -8.7, -9.2, -8.7, -8.3, -8.1, -8, -7.8, -7.5, -7.4, -7.5, -7.5, -7.6, -8, -8.5, -8.7, -8.9, -9, -9, -8.7, -8.4, -8.3, -8.2, -8, -7.8, -7.7, -7.9, -8.1, -8.3, -8.3, -8.3, -8.4, -8.5, -8.6, -8.6, -8.6, -8.6, -8.5, -9, -8.5, -8.2, -8.2];
const ctrl500 = [-4.8, -4.8, -5.6, -6.5, -7.4, -7.8, -7.9, -7.7, -7, -7.1, -7.7, -8, -8.2, -8.4, -8.5, -8.3, -8.1, -7.9, -8.1, -8.5, -9.3, -9.8, -8.5, -7.8, -7.6, -7.5, -7.4, -7.3, -7.05, -7.2, -7.3, -7.3, -7.5, -8.25, -8.7, -9.1, -8.95, -8, -7.05, -7, -7.3, -6.5, -6.5, -7.3, -7.5, -8, -8.7, -9.05, -9.3, -9.9, -9.7, -9.8, -10.8, -11, -11.1, -11.2, -11, -10.6, -9.4, -7.3, -6.6];
const members500 = [
  [-4.8, -4.7, -5.4, -6.2, -7.2, -7.6, -7.6, -7.5, -6.9, -6.9, -7.2, -7.6, -7.7, -7.8, -7.9, -7.8, -7.5, -7.2, -6.9, -7.6, -7.6, -8.4, -7.7, -7.7, -6.8, -6.3, -6.6, -5.6, -6.1, -5.5, -6.5, -5.7, -6.8, -6.5, -7.4, -6.9, -7.5, -6.6, -7.1, -6, -6.6, -5.7, -6.2, -5.5, -5.9, -6.3, -5.9, -6.7, -6.2, -7.2, -6.6, -7.4, -6.9, -7.4, -6.5, -7.6, -6.7, -7.8, -6.7, -7.1, -6.5],
  [-5.1, -5, -5.7, -6.6, -7.5, -7.9, -8, -7.9, -7.2, -7.4, -7.9, -8.2, -8.3, -8.5, -8.6, -8.5, -8.3, -8.1, -8.6, -8.4, -9.4, -9.6, -9.5, -8.7, -9.1, -8.6, -9.1, -8.2, -8.7, -8.1, -8.9, -8.1, -9.3, -8.8, -9.4, -8.5, -8.9, -8.1, -8.5, -7.5, -8.1, -7.2, -7.8, -6.9, -7.4, -7, -7.6, -6.7, -7.1, -6.1, -6.8, -6.2, -6.9, -5.9, -7, -6.2, -6.6, -6.5, -6.8, -5.8, -6.3],
  [-4.9, -4.8, -5.5, -6.3, -7.2, -7.6, -7.7, -7.6, -6.9, -7, -7.4, -7.7, -7.8, -8, -8, -8, -7.7, -7.6, -7.2, -7.8, -7.9, -8.7, -7.9, -7.9, -7.2, -7.5, -6.7, -7.1, -6.3, -7, -6.5, -7.1, -6.9, -8, -7.5, -8.2, -7.5, -7.9, -7, -7.2, -6.5, -7, -6.2, -6.6, -5.7, -6.3, -5.6, -6, -5.3, -5.8, -5.1, -5.8, -5.3, -5.7, -5.4, -5.8, -5.1, -6.2, -5.2, -5.4, -4.9],
  [-4.7, -4.6, -5.3, -6.1, -7.1, -7.5, -7.6, -7.5, -6.8, -6.8, -7.2, -7.5, -7.6, -7.8, -7.8, -7.8, -7.6, -7.1, -7.6, -7.5, -8.4, -8.5, -8.4, -7.6, -7.8, -7, -7.2, -6.3, -6.6, -6.2, -6.9, -6.3, -7.3, -7.3, -8.3, -8.2, -9.1, -8.7, -9, -8.1, -8.6, -7.8, -8.3, -7.5, -8, -7.7, -8.6, -8.4, -9.3, -9, -9.9, -9.6, -10.4, -9.7, -10.5, -9.7, -10.1, -10.2, -10.3, -9.3, -10],
  [-5, -4.9, -5.6, -6.4, -7.4, -7.8, -7.9, -7.8, -7.1, -7.2, -7.6, -7.9, -8, -8.2, -8.2, -8.2, -7.9, -7.7, -7.3, -8, -8.1, -9, -8, -8, -7.2, -6.8, -7.1, -6.1, -6.5, -6, -6.5, -6, -7, -6.9, -7.6, -7.1, -7.5, -7.2, -6.2, -6.3, -5.5, -5.9, -5.1, -5.6, -4.8, -5.7, -5.3, -6.1, -5.5, -6.2, -5.7, -6.3, -5.9, -6.3, -5.8, -6.5, -5.7, -6.7, -5.7, -5.9, -5.4],
  [-4.9, -4.8, -5.5, -6.3, -7.3, -7.7, -7.8, -7.7, -7.1, -7.5, -8, -8.3, -8.4, -8.6, -8.7, -8.7, -8.6, -8.4, -9, -9, -9.9, -10, -10, -9.2, -9.4, -9.1, -9.6, -8.7, -9.2, -8.7, -9.3, -8.8, -9.8, -9.7, -10.6, -10.4, -11.2, -10.7, -11.1, -10.2, -10.6, -9.9, -10.3, -9.5, -10, -9.6, -10.4, -10.1, -11, -10.7, -11.5, -11.1, -11.9, -11.3, -11.8, -11.4, -11.7, -11.7, -11.8, -10.9, -11.6],
  [-4.8, -4.7, -5.4, -6.2, -7.2, -7.6, -7.7, -7.6, -6.9, -6.9, -7.3, -7.6, -7.6, -7.8, -7.8, -7.7, -7.4, -7.1, -6.7, -7.4, -7.5, -8.3, -7.5, -7.4, -6.7, -6.8, -6, -6.3, -5.6, -6.3, -5.7, -6.4, -6.1, -7.2, -6.8, -7.5, -6.8, -7.1, -6.1, -6.3, -5.5, -6, -5.2, -5.6, -4.9, -5.8, -5.5, -6.4, -6.1, -7, -6.6, -7.3, -6.8, -7.3, -6.9, -7.3, -6.6, -7.8, -6.7, -7, -6.3],
  [-4.7, -4.6, -5.3, -6.1, -7.1, -7.5, -7.6, -7.5, -6.8, -6.8, -7.1, -7.4, -7.5, -7.7, -7.7, -7.7, -7.3, -6.8, -7.3, -7.2, -8.1, -8.2, -8.2, -7.5, -7.7, -7.1, -7.6, -6.7, -7.2, -6.7, -7.3, -6.8, -7.9, -7.7, -8.3, -7.7, -8.2, -7.6, -7.9, -7.1, -7.6, -6.9, -7.3, -6.6, -7.1, -6.8, -7.7, -7.3, -8.2, -7.9, -8.7, -8.2, -8.9, -8.4, -8.8, -8.4, -8.7, -8.7, -8.8, -7.8, -8.6],
  [-5, -4.9, -5.6, -6.4, -7.4, -7.8, -7.9, -7.8, -7.1, -7, -7.4, -7.7, -7.8, -8, -8, -8, -7.6, -7.5, -7.2, -7.9, -8, -8.9, -8, -8, -7.3, -7.5, -6.7, -7.1, -6.3, -7, -6.3, -7.1, -7, -8.3, -8.1, -9.1, -8.9, -9.7, -8.9, -9.3, -8.6, -9, -8.2, -8.6, -7.9, -8.9, -8.6, -9.5, -9.2, -10, -9.6, -10.3, -9.8, -10.5, -9.7, -10.5, -9.6, -10.8, -9.7, -9.9, -9.4],
  [-4.9, -4.8, -5.5, -6.3, -7.3, -7.7, -7.7, -7.6, -6.9, -6.9, -7.3, -7.6, -7.6, -7.8, -7.7, -7.6, -7.2, -6.5, -6.9, -6.7, -7.6, -7.6, -7.6, -6.8, -6.8, -5.9, -6.1, -5.2, -5.6, -5.1, -5.8, -5.3, -6.3, -6.2, -7, -6.6, -7.4, -6.9, -7.4, -6.6, -7.1, -6.4, -6.8, -6, -6.3, -5.7, -6.1, -5.2, -5.6, -4.8, -5.3, -4.6, -5.4, -4.6, -5.5, -4.7, -5, -4.9, -5.1, -4.2, -4.9],
  [-5.1, -5, -5.7, -6.5, -7.5, -7.9, -8, -7.9, -7.2, -7.6, -8.1, -8.4, -8.5, -8.7, -8.7, -8.7, -8.6, -8.8, -8.6, -9.3, -9.4, -10.3, -9.5, -9.6, -9, -9.5, -8.7, -9, -8.3, -9, -8.4, -9.1, -8.9, -10, -9.6, -10.3, -9.7, -10.2, -9.4, -9.7, -9, -9.5, -8.8, -9.3, -8.8, -9.8, -9.6, -10.6, -10.3, -11.1, -10.6, -11.3, -10.8, -11.4, -10.7, -11.5, -10.6, -11.8, -10.7, -11, -10.5],
  [-4.8, -4.7, -5.4, -6.2, -7.2, -7.6, -7.7, -7.6, -6.9, -7.2, -7.6, -7.9, -8, -8.2, -8.2, -8.3, -8.2, -8, -8.6, -8.5, -9.5, -9.6, -9.7, -9.1, -9.6, -9.4, -9.9, -9.1, -9.7, -9.2, -9.9, -9.4, -10.4, -10.3, -11.2, -10.9, -11.9, -11.6, -12, -11.1, -11.6, -10.9, -11.4, -10.7, -11.3, -11.1, -12, -11.8, -12.6, -12.2, -13.1, -12.7, -13.4, -12.9, -13.3, -12.9, -13.3, -13.2, -13.4, -12.4, -12.9],
  [-4.9, -4.8, -5.5, -6.3, -7.3, -7.7, -7.8, -7.6, -6.9, -7, -7.4, -7.7, -7.8, -8, -8, -8, -7.7, -7.7, -7.4, -8.1, -8.2, -9.1, -8.2, -8.2, -7.5, -7.5, -6.6, -6.8, -6.1, -6.8, -6.2, -6.9, -6.7, -7.8, -7.4, -8.2, -7.4, -7.7, -6.7, -7, -6.2, -6.7, -5.9, -6.3, -5.7, -6.6, -6.3, -7.2, -6.9, -7.6, -7.1, -7.8, -7.3, -7.9, -7.2, -8, -7.2, -8.3, -7.2, -7.5, -6.9],
  [-4.8, -4.7, -5.4, -6.2, -7.2, -7.6, -7.6, -7.5, -6.8, -6.8, -7.2, -7.5, -7.6, -7.8, -7.8, -7.7, -7.4, -6.7, -7.2, -7.1, -8, -8, -8, -7.2, -7.2, -6.1, -6.3, -5.4, -5.9, -5.4, -6, -5.5, -6.5, -6.4, -7.2, -6.7, -7.2, -6.3, -6.5, -5.6, -6.1, -5.4, -5.8, -5, -5.5, -5.1, -5.9, -5.5, -6.3, -5.9, -6.6, -6.2, -6.9, -6.2, -6.9, -6.3, -6.7, -6.7, -6.8, -5.9, -6.5],
  [-5, -4.9, -5.6, -6.4, -7.4, -7.8, -7.9, -7.8, -7.1, -7.4, -7.8, -8.1, -8.2, -8.4, -8.4, -8.3, -8, -8, -7.7, -8.4, -8.5, -9.4, -8.6, -8.6, -8.2, -8.7, -8, -8.3, -7.6, -8.3, -7.7, -8.4, -8.3, -9.4, -9.1, -10, -9.7, -10.7, -9.9, -10.2, -9.5, -10, -9.2, -9.6, -8.8, -9.5, -8.9, -9.5, -8.8, -9.3, -8.7, -9.3, -8.8, -9.4, -8.7, -9.5, -8.7, -9.8, -8.7, -9, -8.4],
  [-4.7, -4.6, -5.3, -6.1, -7.1, -7.5, -7.6, -7.5, -6.8, -6.9, -7.3, -7.6, -7.7, -7.9, -7.9, -7.9, -7.6, -7, -7.5, -7.4, -8.3, -8.3, -8.3, -7.4, -7.4, -6.4, -6.7, -5.7, -6.2, -5.7, -6.3, -5.8, -6.9, -6.9, -7.8, -7.5, -8.2, -7.7, -8, -7.1, -7.6, -6.9, -7.3, -6.5, -6.9, -6.3, -6.9, -6.2, -6.6, -5.8, -6.3, -5.8, -6.5, -5.8, -6.5, -5.8, -6.2, -6.2, -6.3, -5.4, -6],
  [-4.9, -4.8, -5.5, -6.3, -7.3, -7.7, -7.8, -7.7, -7, -7.1, -7.5, -7.8, -7.9, -8.1, -8.1, -8.1, -7.8, -7.6, -7.3, -8, -8.1, -8.9, -8.1, -8.1, -7.4, -7.6, -6.8, -7, -6.3, -7, -6.4, -7.1, -6.9, -8, -7.5, -8.1, -7.2, -7.5, -6.5, -6.7, -6, -6.5, -5.7, -6.1, -5.5, -6.4, -6.1, -7.1, -6.8, -7.6, -7.1, -7.8, -7.3, -7.9, -7.3, -7.9, -7.2, -8.3, -7.2, -7.5, -6.9],
  [-5, -4.9, -5.6, -6.4, -7.4, -7.8, -7.9, -7.8, -7.1, -7, -7.4, -7.7, -7.8, -8, -8, -8, -7.6, -7, -7.5, -7.4, -8.3, -8.4, -8.3, -7.5, -7.5, -6.8, -7.1, -6.2, -6.6, -6.1, -6.8, -6.3, -7.3, -7.2, -8, -7.5, -8.1, -7.3, -7.5, -6.6, -7.1, -6.4, -6.8, -6, -6.5, -6.1, -6.8, -6.3, -6.8, -6.1, -6.7, -6.2, -6.9, -6.3, -6.9, -6.3, -6.8, -6.7, -6.8, -5.9, -6.5],
  [-4.8, -4.7, -5.4, -6.2, -7.2, -7.6, -7.7, -7.6, -6.9, -7.5, -7.9, -8.2, -8.3, -8.5, -8.5, -8.6, -8.5, -8.7, -8.5, -9.2, -9.3, -10.2, -9.4, -9.4, -8.8, -9.3, -8.5, -8.8, -8.1, -8.8, -8.1, -8.7, -8.3, -9.2, -8.5, -8.9, -8.2, -8.7, -7.8, -8.2, -7.5, -8, -7.2, -7.6, -6.9, -7.7, -7.3, -8.1, -7.5, -8.1, -7.6, -8.3, -7.8, -8.4, -7.8, -8.4, -7.7, -8.8, -7.7, -8, -7.4],
  [-4.9, -4.8, -5.5, -6.3, -7.3, -7.7, -7.8, -7.7, -7, -7.4, -7.8, -8.1, -8.2, -8.4, -8.4, -8.5, -8.4, -8.4, -9.1, -9.1, -10, -10.1, -10.1, -9.4, -9.8, -9.5, -10, -9.1, -9.7, -9.2, -9.8, -9.3, -10.3, -10.2, -11, -10.6, -11.4, -11, -11.4, -10.6, -11.1, -10.4, -10.8, -10, -10.5, -10.1, -10.9, -10.5, -11.3, -11.2, -12.1, -11.7, -12.4, -11.9, -12.3, -11.9, -12.3, -12.2, -12.3, -11.4, -12],
  [-4.7, -4.6, -5.3, -6.1, -7.1, -7.5, -7.6, -7.5, -6.8, -6.8, -7.1, -7.4, -7.5, -7.7, -7.7, -7.7, -7.4, -7.1, -6.8, -7.4, -7.5, -8.4, -7.5, -7.5, -6.7, -6.8, -6, -6.3, -5.6, -6.3, -5.8, -6.5, -6.5, -7.7, -7.5, -8.4, -8, -8.7, -7.9, -8.2, -7.5, -8, -7.2, -7.6, -6.9, -7.7, -7.1, -7.7, -7, -7.6, -7.1, -7.8, -7.3, -7.9, -7.3, -7.9, -7.2, -8.3, -7.2, -7.5, -6.9],
  [-5, -4.9, -5.6, -6.4, -7.4, -7.8, -7.9, -7.8, -7.1, -7.2, -7.6, -7.9, -8, -8.2, -8.2, -8.2, -7.8, -7.4, -7.9, -7.8, -8.7, -8.8, -8.8, -8.1, -8.6, -8.2, -8.6, -7.7, -8.2, -7.7, -8.3, -7.8, -8.8, -8.7, -9.5, -9.1, -9.9, -9.5, -9.9, -9, -9.5, -8.8, -9.2, -8.4, -8.9, -8.6, -9.5, -9.2, -10, -9.7, -10.5, -10.1, -10.8, -10.2, -10.7, -10.3, -10.7, -10.6, -10.8, -9.9, -10.5],
  [-4.9, -4.8, -5.5, -6.3, -7.3, -7.7, -7.8, -7.7, -7, -7.5, -8, -8.3, -8.4, -8.6, -8.6, -8.6, -8.5, -8.7, -8.5, -9.2, -9.3, -10.2, -9.3, -9.3, -8.8, -9.3, -8.5, -8.8, -8.1, -8.8, -8.2, -8.9, -8.7, -9.8, -9.5, -10.5, -10.3, -11.2, -10.4, -10.7, -10, -10.5, -9.7, -10.1, -9.4, -10.2, -9.7, -10.3, -9.7, -10.2, -9.6, -10.3, -9.8, -10.4, -9.8, -10.4, -9.7, -10.8, -9.7, -10, -9.4],
  [-4.8, -4.7, -5.4, -6.2, -7.2, -7.6, -7.7, -7.6, -6.9, -6.9, -7.3, -7.6, -7.7, -7.9, -7.9, -7.9, -7.5, -6.9, -7.4, -7.3, -8.2, -8.3, -8.2, -7.4, -7.5, -6.7, -7.1, -6.2, -6.7, -6.2, -6.8, -6.3, -7.2, -7, -7.5, -6.7, -7.1, -6.2, -6.5, -5.6, -6.1, -5.4, -5.8, -5, -5.3, -4.7, -5.1, -4.3, -4.6, -3.7, -4.2, -3.7, -4.4, -3.8, -4.4, -3.8, -4.3, -4.2, -3.7, -2.5, -2.9],
  [-5.1, -5, -5.7, -6.5, -7.5, -7.9, -8, -7.9, -7.2, -7.6, -8.1, -8.4, -8.5, -8.7, -8.7, -8.8, -8.7, -9, -9, -9.9, -10.1, -11, -10.3, -10.4, -10.1, -10.9, -10.4, -10.9, -10.2, -10.8, -10.1, -10.6, -10.1, -11, -10.5, -11.2, -10.6, -11.2, -10.3, -10.6, -9.9, -10.3, -9.5, -9.9, -9.1, -9.9, -9.3, -9.9, -9.2, -9.7, -9.2, -9.8, -9.3, -9.9, -9.3, -9.9, -9.2, -10.3, -9.2, -9.5, -8.9],
  [-5, -4.9, -5.6, -6.4, -7.4, -7.8, -7.9, -7.8, -7.1, -7.4, -7.9, -8.2, -8.3, -8.5, -8.5, -8.5, -8.3, -8.2, -8.7, -8.7, -9.6, -9.7, -9.7, -8.9, -9.4, -9, -9.5, -8.7, -9.3, -8.8, -9.5, -9.1, -10.2, -10.1, -11.1, -10.9, -11.9, -12.3, -13, -13.7, -13.2, -15.2, -13.6, -13.2, -12.3, -12.8, -12, -12.3, -11.5, -11.3, -11.7, -10.9, -11.7, -11.2, -11.7, -11.3, -11.8, -11.7, -11.7, -10.7, -11.3],
  [-4.9, -4.8, -5.5, -6.3, -7.3, -7.7, -7.8, -7.7, -7, -7.1, -7.5, -7.8, -7.9, -8.1, -8.1, -8.1, -7.7, -7.7, -7.4, -8.1, -8.2, -9.1, -8.2, -8.2, -7.5, -7.8, -7, -7.3, -6.6, -7.3, -6.7, -7.4, -7.3, -8.5, -8.3, -9.2, -8.9, -9.7, -8.9, -9.2, -8.5, -9, -8.2, -8.6, -7.9, -8.7, -8.3, -9.1, -8.5, -9.1, -8.6, -9.3, -8.8, -9.4, -8.8, -9.4, -8.7, -9.8, -8.7, -9, -8.4],
  [-4.8, -4.7, -5.4, -6.2, -7.2, -7.6, -7.7, -7.6, -6.9, -7.2, -7.6, -7.9, -8, -8.2, -8.2, -8.2, -8, -7.9, -8.4, -8.3, -9.2, -9.3, -9.2, -8.4, -8.7, -8.5, -9, -8.2, -8.7, -8.2, -8.8, -8.3, -9.4, -9.3, -10.2, -9.9, -10.8, -10.5, -10.9, -10, -10.5, -9.8, -10.2, -9.4, -9.9, -9.6, -10.4, -10, -10.8, -10.4, -11.2, -10.7, -11.4, -10.8, -11.4, -10.8, -11.3, -11.2, -11.3, -10.4, -11],
  [-5, -4.9, -5.6, -6.4, -7.4, -7.8, -7.9, -7.8, -7.1, -7, -7.4, -7.7, -7.8, -8, -8, -8, -7.6, -7.6, -7.3, -8, -8.1, -9, -8.1, -8.1, -7.6, -8.2, -7.5, -7.8, -7.1, -7.8, -7.2, -7.9, -7.7, -8.8, -8.3, -8.9, -8.2, -8.8, -7.9, -8.2, -7.5, -8, -7.2, -7.6, -6.8, -7.5, -6.9, -7.4, -6.7, -7.2, -6.6, -7.3, -6.8, -7.4, -6.8, -7.4, -6.7, -7.8, -6.7, -7, -6.4],
  [-4.7, -4.6, -5.3, -6.1, -7.1, -7.5, -7.6, -7.5, -6.8, -6.8, -7.2, -7.5, -7.6, -7.8, -7.8, -7.8, -7.5, -6.8, -7.3, -7.2, -8.1, -8.2, -8.1, -7.3, -7.4, -6.5, -6.9, -6, -6.5, -6, -6.6, -6.1, -7.1, -7, -7.8, -7.4, -8.1, -7.6, -8, -7.1, -7.6, -6.9, -7.3, -6.5, -7.1, -6.8, -7.7, -7.5, -8.3, -8, -8.7, -8.2, -8.9, -8.3, -8.9, -8.3, -8.8, -8.7, -8.8, -7.9, -8.5],
  [-4.9, -4.8, -5.5, -6.3, -7.3, -7.7, -7.8, -7.7, -7, -7.3, -7.7, -8, -8.1, -8.3, -8.3, -8.3, -8, -8, -7.7, -8.4, -8.5, -9.4, -8.5, -8.5, -7.8, -7.9, -7, -7.3, -6.6, -7.3, -6.7, -7.4, -7.2, -8.3, -7.9, -8.7, -8.1, -8.5, -7.5, -7.8, -7, -7.5, -6.7, -7.1, -6.4, -7.2, -6.8, -7.5, -6.8, -7.1, -6.4, -6.9, -6.4, -6.9, -6.3, -6.9, -6.2, -7.3, -6.2, -6.5, -5.9],
  [-5.1, -5, -5.7, -6.5, -7.5, -7.9, -8, -7.9, -7.2, -7.5, -7.9, -8.2, -8.3, -8.5, -8.5, -8.4, -8, -7.4, -7.9, -7.8, -8.7, -8.7, -8.6, -7.7, -7.7, -6.7, -7.1, -6.2, -6.7, -6.2, -6.8, -6.3, -7.3, -7.2, -7.9, -7.3, -7.8, -7.1, -7.4, -6.5, -7, -6.3, -6.8, -6.1, -6.7, -6.5, -7.4, -7.2, -8, -7.5, -8.2, -7.7, -8.4, -7.8, -8.4, -7.8, -8.3, -8.2, -8.3, -7.4, -8],
  [-5, -4.9, -5.6, -6.4, -7.4, -7.8, -7.9, -7.8, -7.1, -7.7, -8.1, -8.4, -8.5, -8.7, -8.8, -8.9, -8.9, -9.2, -9.1, -9.9, -10.1, -10.9, -10.1, -10.1, -9.6, -10.2, -10.3, -10, -10.3, -11, -10.6, -9.9, -10.3, -10.7, -10.6, -10.4, -10.2, -10.5, -9.5, -9.8, -9, -9.5, -8.7, -9.1, -8.5, -9.4, -9.2, -10.2, -9.8, -10.6, -10.1, -10.8, -10.3, -10.9, -10.3, -10.9, -10.2, -11.3, -10.2, -10.5, -9.9],
  [-4.8, -4.7, -5.4, -6.2, -7.2, -7.6, -7.7, -7.6, -6.9, -7, -7.4, -7.7, -7.8, -8, -8, -8, -7.8, -7.6, -8.1, -8, -8.9, -9, -9, -8.3, -8.6, -8.2, -8.6, -7.7, -8.2, -7.7, -8.3, -7.8, -8.8, -8.7, -9.4, -8.9, -9.4, -8.7, -9, -8.1, -8.6, -7.9, -8.3, -7.5, -8, -7.5, -8.2, -7.5, -7.9, -7.1, -7.7, -7.2, -7.9, -7.3, -7.9, -7.3, -7.8, -7.7, -7.8, -6.9, -7.5],
  [-4.9, -4.8, -5.5, -6.3, -7.3, -7.7, -7.8, -7.7, -7, -6.9, -7.3, -7.6, -7.7, -7.9, -7.9, -7.9, -7.5, -7.4, -7.1, -7.8, -7.9, -8.8, -7.9, -8, -7.4, -7.8, -7, -7.3, -6.6, -7.3, -6.7, -7.4, -7.3, -8.5, -8.2, -9.2, -8.9, -9.7, -8.9, -9.2, -8.5, -9, -8.2, -8.6, -7.9, -8.8, -8.5, -9.3, -8.9, -9.6, -9.1, -9.8, -9.3, -9.9, -9.3, -9.9, -9.2, -10.3, -9.2, -9.5, -8.9],
  [-4.7, -4.6, -5.3, -6.1, -7.1, -7.5, -7.6, -7.5, -6.8, -7.2, -7.6, -7.9, -8, -8.2, -8.2, -8.3, -8.2, -8, -8.5, -8.4, -9.2, -9.2, -9.1, -8.2, -8.1, -7.2, -7.6, -6.7, -7.2, -6.7, -7.3, -6.8, -7.8, -7.7, -8.4, -7.7, -8.1, -7.3, -7.5, -6.6, -7.1, -6.4, -6.8, -6, -6.4, -5.9, -6.5, -5.8, -6.2, -5.4, -5.9, -5.3, -6, -5.3, -5.9, -5.3, -5.8, -5.7, -5.8, -4.9, -5.5],
  [-5, -4.9, -5.6, -6.4, -7.4, -7.8, -7.9, -7.8, -7.1, -7.1, -7.5, -7.8, -7.9, -8.1, -8.1, -8.1, -7.8, -7.7, -7.4, -8.1, -8.2, -9.1, -8.3, -8.4, -7.9, -8.3, -7.5, -7.8, -7.1, -7.8, -7.2, -7.9, -7.8, -9, -8.9, -9.9, -9.7, -10.7, -9.9, -10.2, -9.5, -10, -9.2, -9.6, -8.9, -9.8, -9.5, -10.5, -10.2, -11, -10.6, -11.3, -10.8, -11.4, -10.8, -11.4, -10.7, -11.8, -10.7, -11, -10.4],
  [-4.9, -4.8, -5.5, -6.3, -7.3, -7.7, -7.8, -7.7, -7, -7, -7.4, -7.7, -7.8, -8, -8, -8, -7.7, -7.1, -7.6, -7.5, -8.4, -8.5, -8.4, -7.6, -7.7, -6.7, -7.1, -6.2, -6.7, -6.2, -6.8, -6.3, -7.4, -7.4, -8.4, -8.2, -9.1, -8.7, -9, -8.1, -8.6, -7.9, -8.3, -7.5, -8, -7.7, -8.6, -8.4, -9.3, -9, -9.7, -9.2, -9.9, -9.3, -9.9, -9.3, -9.8, -9.7, -9.8, -8.9, -9.5],
  [-4.8, -4.7, -5.4, -6.2, -7.2, -7.6, -7.7, -7.6, -6.9, -7.4, -7.8, -8.1, -8.2, -8.4, -8.4, -8.4, -8.2, -8.5, -8.2, -8.9, -9, -9.9, -9.1, -9.2, -8.8, -9.5, -8.9, -9.3, -8.6, -9.3, -8.7, -9.4, -9.2, -10.3, -10.1, -11.1, -10.9, -11.7, -10.9, -11.2, -10.5, -11, -10.2, -10.6, -9.9, -10.5, -9.9, -10.4, -9.6, -10.1, -9.6, -10.3, -9.8, -10.4, -9.8, -10.4, -9.7, -10.8, -9.7, -10, -9.4],
  [-4.9, -4.8, -5.5, -6.3, -7.3, -7.7, -7.8, -7.6, -6.9, -6.9, -7.3, -7.6, -7.7, -7.9, -7.8, -7.8, -7.4, -6.8, -7.3, -7.2, -8.1, -8.1, -8.1, -7.3, -7.3, -6.2, -6.6, -5.7, -6.2, -5.7, -6.3, -5.8, -6.8, -6.7, -7.5, -7, -7.5, -6.7, -7, -6.1, -6.6, -5.9, -6.3, -5.5, -6, -5.7, -6.6, -6.4, -7.3, -7, -7.7, -7.2, -7.9, -7.3, -7.9, -7.3, -7.8, -7.7, -7.8, -6.9, -7.5],
  [-5, -4.9, -5.6, -6.4, -7.4, -7.8, -7.9, -7.8, -7.1, -7.2, -7.6, -7.9, -8, -8.2, -8.2, -8.2, -7.8, -7.6, -7.3, -8, -8.1, -9, -8.1, -8.1, -7.5, -7.8, -7, -7.3, -6.6, -7.3, -6.7, -7.4, -7.2, -8.3, -7.9, -8.7, -8.2, -8.8, -7.9, -8.2, -7.5, -8, -7.2, -7.6, -6.9, -7.7, -7.3, -8.2, -7.8, -8.6, -8.1, -8.8, -8.3, -8.9, -8.3, -8.9, -8.2, -9.3, -8.2, -8.5, -7.9],
  [-5.1, -5, -5.7, -6.5, -7.5, -7.9, -8, -7.9, -7.2, -7.8, -8.2, -8.5, -8.6, -8.8, -8.8, -8.9, -8.9, -9.4, -9.8, -10.2, -10.6, -10.9, -11.8, -12.5, -12.8, -12.8, -12.7, -12.5, -12.1, -11.6, -11.2, -10.9, -10.8, -10.9, -11, -11, -10.9, -10.5, -10.8, -9.9, -10.4, -9.7, -10.1, -9.3, -9.8, -9.4, -10.2, -9.7, -10.3, -9.5, -10, -9.3, -10, -9.4, -10, -9.4, -9.9, -9.8, -9.9, -9, -9.6],
  [-4.8, -4.7, -5.4, -6.2, -7.2, -7.6, -7.7, -7.6, -6.9, -6.8, -7.2, -7.5, -7.6, -7.8, -7.8, -7.8, -7.4, -7, -6.7, -7.4, -7.5, -8.4, -7.5, -7.5, -6.6, -6.3, -6, -5.6, -5.5, -5.4, -4.6, -3.8, -4.4, -5.4, -5.7, -6.2, -6.6, -6.9, -7.7, -7.1, -7.6, -6.9, -7.3, -6.5, -7, -6.6, -7.4, -7, -7.8, -7.3, -8, -7.5, -8.2, -7.6, -8.2, -7.6, -8.1, -8, -8.1, -7.2, -7.8],
  [-4.9, -4.8, -5.5, -6.3, -7.3, -7.7, -7.8, -7.7, -7, -7.2, -7.6, -7.9, -8, -8.2, -8.2, -8.2, -8, -8.1, -7.9, -8.6, -8.7, -9.6, -8.7, -8.7, -8.2, -8.8, -8, -8.3, -7.6, -8.3, -7.7, -8.4, -8.1, -9.1, -8.5, -9, -8.2, -8.8, -7.9, -8.2, -7.5, -8, -7.2, -7.6, -6.9, -7.8, -7.5, -8.5, -8.2, -9.1, -8.6, -9.3, -8.8, -9.4, -8.8, -9.4, -8.7, -9.8, -8.7, -9, -8.4],
  [-5, -4.9, -5.6, -6.4, -7.4, -7.8, -7.9, -7.8, -7.1, -7.6, -8, -8.3, -8.4, -8.6, -8.6, -8.6, -8.4, -8.3, -9, -9, -9.9, -10, -9.9, -9.1, -9.4, -9.1, -9.6, -8.7, -9.2, -8.7, -9.3, -8.8, -9.8, -9.7, -10.6, -10.3, -11.2, -10.9, -11.4, -10.6, -11.1, -10.4, -10.8, -10, -10.5, -10.3, -11.3, -11.2, -12.3, -12.2, -13.2, -12.9, -13.7, -13.2, -13.7, -13.3, -14.1, -14.3, -14.8, -14, -14.6],
  [-4.8, -4.7, -5.4, -6.2, -7.2, -7.6, -7.7, -7.6, -6.9, -6.9, -7.3, -7.6, -7.7, -7.9, -7.9, -7.9, -7.6, -7.4, -7.1, -7.8, -7.9, -8.8, -7.9, -7.9, -7.2, -7.3, -6.5, -6.8, -6.1, -6.8, -6.2, -6.9, -6.7, -7.8, -7.3, -8, -7.3, -7.6, -6.6, -6.8, -6, -6.5, -5.7, -6.1, -5.3, -6, -5.4, -5.8, -5, -5.3, -4.6, -5.3, -4.8, -5.4, -4.8, -5.4, -4.7, -5.8, -4.2, -4, -3.1],
  [-4.9, -4.8, -5.5, -6.3, -7.3, -7.7, -7.8, -7.7, -7, -7, -7.4, -7.7, -7.8, -8, -8, -8, -7.8, -7.4, -7.9, -7.8, -8.7, -8.8, -8.7, -7.9, -8, -7.2, -7.6, -6.7, -7.2, -6.7, -7.3, -6.8, -7.8, -7.7, -8.5, -8, -8.5, -7.7, -8, -7.1, -7.6, -6.9, -7.3, -6.5, -7, -6.7, -7.5, -7.2, -8, -7.5, -8.2, -7.7, -8.4, -7.8, -8.4, -7.8, -8.3, -8.2, -8.3, -7.4, -8],
  [-4.8, -4.7, -5.4, -6.2, -7.2, -7.6, -7.7, -7.6, -6.9, -7.3, -7.7, -8, -8.1, -8.3, -8.3, -8.3, -8.2, -8.5, -8.3, -9, -9.1, -10, -9.1, -9.1, -8.6, -9.3, -8.5, -8.8, -8.1, -8.8, -8.2, -8.9, -8.7, -9.8, -9.5, -10.4, -10.1, -10.8, -9.9, -10.2, -9.5, -10, -9.2, -9.6, -8.9, -9.9, -9.7, -10.8, -10.6, -11.6, -11.1, -11.8, -11.3, -11.9, -11.3, -11.9, -11.2, -12.3, -11.2, -11.5, -10.9],
  [-4.9, -4.8, -5.5, -6.3, -7.3, -7.7, -7.8, -7.7, -7, -7, -7.4, -7.7, -7.8, -8, -8, -8, -7.7, -7.1, -7.6, -7.5, -8.4, -8.5, -8.4, -7.6, -7.8, -7.2, -7.6, -6.7, -7.2, -6.7, -7.3, -6.8, -7.8, -7.7, -8.5, -8.1, -8.8, -8.3, -8.8, -7.9, -8.4, -7.7, -8.1, -7.3, -7.8, -7.3, -7.9, -7.2, -7.6, -6.8, -7.3, -6.7, -7.4, -6.8, -7.4, -6.8, -7.3, -7.2, -7.3, -6.4, -7],
  [-5, -4.9, -5.6, -6.4, -7.4, -7.8, -7.9, -7.8, -7.1, -7.6, -8, -8.3, -8.4, -8.6, -8.6, -8.7, -8.6, -9, -8.9, -9.7, -9.8, -10.7, -9.8, -9.8, -9.5, -10.3, -11.5, -10.2, -9.6, -10.5, -10.2, -9.9, -10.4, -10.8, -10.8, -10.6, -10.4, -9.8, -10.1, -9.2, -9.7, -9, -9.4, -8.6, -9.1, -8.8, -9.7, -9.5, -10.4, -10, -10.7, -10.2, -10.9, -10.3, -10.9, -10.3, -10.8, -10.7, -10.8, -9.9, -10.5],
];

// 6-hourly precipitation (mm); the first step has no accumulation
const meanRain = [null, 0, 0, 0, 0, 0, 0, 0, 0, 0, 0.3, 0.4, 0.1, 0.1, 0.1, 0.1, 0.1, 0.1, 0.2, 0.4, 0.4, 0.7, 0.6, 0.5, 0.3, 0.5, 0.9, 0.6, 0.3, 0.2, 0.1, 0.1, 0.1, 0.1, 0.1, 0.1, 0.3, 0.4, 0.4, 0.2, 0.2, 0.1, 0.2, 0.2, 0.2, 0.6, 0.7, 0.4, 0.3, 0.3, 0.3, 0.2, 0.3, 0.4, 0.3, 0.3, 0.3, 0.4, 0.3, 0.5, 0.5];
const ctrlRain = [null, 0, 0, 0, 0, 0, 0, 0, 0, 0, 0, 0, 0, 0, 0, 0, 0, 0, 0, 0, 0.2, 0.3, 0.5, 0.3, 0.1, 0.4, 1, 0.3, 0, 0, 0, 0, 0, 0, 0, 0, 0, 0, 0, 0, 0, 0, 0, 0, 0, 0.3, 0.2, 0, 0, 0, 0, 0, 0, 2.8, 2.8, 0, 0, 0, 0, 0, 0];
// member, step index, mm (steps not listed for a member were dry)
const rainEvents = [
  [1, 22, 0.6], [1, 23, 0.3], [1, 44, 0.5], [3, 21, 1.2], [3, 22, 0.8], [5, 24, 0.8],
  [6, 21, 2.3], [6, 22, 1.9], [6, 44, 0.5], [6, 45, 28.4], [6, 46, 16.7], [6, 47, 10.9], [6, 48, 2.4], [6, 49, 7.9], [6, 50, 3.9], [6, 51, 0.2],
  [7, 22, 1], [7, 45, 0.8], [9, 17, 0.5], [9, 25, 0.6], [10, 26, 0.9],
  [11, 20, 0.5], [11, 21, 13.1], [11, 22, 2.5], [11, 23, 0.5],
  [12, 57, 0.2], [12, 58, 0.5], [12, 59, 2.2], [12, 60, 0.3],
  [13, 16, 3.1], [13, 17, 0.6], [13, 35, 0.5], [13, 36, 6.5], [13, 37, 0.8], [14, 22, 0.7],
  [15, 11, 0.7], [15, 15, 1.5], [15, 41, 1], [15, 42, 3.4], [15, 43, 1.7],
  [16, 20, 0.5], [16, 21, 4.2], [16, 22, 1.8], [16, 23, 0.6], [16, 24, 0.3],
  [17, 23, 1.5], [17, 24, 0.6], [18, 10, 0.4], [19, 26, 1], [19, 27, 0.5],
  [20, 39, 0.5], [20, 40, 3.2], [20, 41, 2.2], [20, 42, 1], [21, 27, 1], [22, 24, 0.5],
  [23, 45, 1.7], [23, 46, 5.5], [23, 47, 0.3], [24, 26, 1.2], [25, 24, 2.8],
  [26, 37, 0.5], [26, 38, 5.9], [26, 39, 2.2], [26, 40, 1], [27, 21, 1.8],
  [28, 32, 0.3], [28, 33, 1.3], [28, 34, 1.9], [28, 35, 1.3], [29, 23, 0.9],
  [30, 23, 3.2], [30, 60, 2.4], [31, 26, 1.1], [32, 22, 1.3], [33, 16, 1.6], [34, 27, 0.8],
  [35, 16, 2.4], [36, 15, 1.9], [36, 43, 0.6], [37, 25, 1.2],
  [38, 29, 0.3], [38, 30, 3.4], [38, 31, 0.5], [39, 21, 0.9],
  [40, 16, 4.3], [40, 17, 1], [40, 22, 2], [40, 23, 7.7], [40, 24, 1], [41, 24, 1.3],
  [42, 19, 0.5], [42, 20, 6.7], [42, 21, 1.5], [42, 42, 2.3], [42, 43, 0.5], [43, 23, 1],
  [44, 26, 0.6], [44, 51, 1], [46, 59, 2.8], [46, 60, 2.7], [47, 22, 0.9],
  [48, 25, 1], [48, 36, 0.5], [48, 37, 3.9], [48, 38, 1.5],
  [49, 16, 0.8], [49, 20, 1], [49, 21, 7.4], [49, 22, 2], [49, 23, 0.3], [49, 54, 0.8], [49, 55, 3], [49, 56, 0.3],
  [50, 24, 1.1],
];

const mono = "'DejaVu Sans Mono', monospace";
const grid = "#c0c0c0";

export default function App() {
  const x = d3.scaleLinear().domain([0, 360]).range([50, 690]);
  const yL = d3.scaleLinear().domain([30, -45]).range([21, 545.3]);
  const yR = d3.scaleLinear().domain([75, 0]).range([21, 545.3]);

  const lineOn = (y: any) =>
    d3.line<any>()
      .defined((d) => d != null)
      .x((_, i) => x(hours[i]))
      .y((d) => y(d));
  const lineL = lineOn(yL);
  const lineR = lineOn(yR);

  // small "+" markers on each member point
  const crosses = (vals: any[], y: any) =>
    vals
      .map((v, i) => {
        if (v == null) return "";
        const px = x(hours[i]);
        const py = y(v);
        return `M${px - 1.5},${py}h3M${px},${py - 1.5}v3`;
      })
      .join("");

  const rainMembers = memberColors.map((_, m) =>
    hours.map((_, i) => {
      if (i === 0) return null;
      const hit = rainEvents.find((r) => r[0] === m + 1 && r[1] === i);
      return hit ? hit[2] : 0;
    })
  );

  const member = (vals: any[], y: any, line: any, c: string, key: string) => (
    <g key={key}>
      <path d={line(vals)} fill="none" stroke={c} strokeWidth={1} />
      <path d={crosses(vals, y)} fill="none" stroke={c} strokeWidth={1} />
    </g>
  );

  return (
    <svg
      width={740}
      height={700}
      style={{ position: "absolute", left: 0, top: 0, background: "#fff" }}
      fontFamily={mono}
      fontSize={10}
    >
      <defs>
        <clipPath id="plotArea">
          <rect x={50} y={0} width={641} height={600} />
        </clipPath>
      </defs>

      {/* grid */}
      <g shapeRendering="crispEdges">
        {dayHours.map((h) => (
          <line key={h} x1={x(h)} x2={x(h)} y1={0} y2={600} stroke={grid} />
        ))}
        {leftTicks.map((v) =>
          v === 0 ? (
            <g key={v}>
              <line x1={50} x2={690} y1={yL(v) - 1} y2={yL(v) - 1} stroke="#b0b0b0" />
              <line x1={50} x2={690} y1={yL(v) + 1} y2={yL(v) + 1} stroke="#888" strokeWidth={1.5} />
            </g>
          ) : (
            <line
              key={v}
              x1={50}
              x2={690}
              y1={yL(v)}
              y2={yL(v)}
              stroke={grid}
              strokeWidth={v % 10 === 0 ? 2 : 1}
            />
          )
        )}
        <line x1={50} x2={690} y1={600.5} y2={600.5} stroke="#000" />
      </g>

      <g clipPath="url(#plotArea)">
        {members850.map((vals, m) => member(vals, yL, lineL, memberColors[m], "a" + m))}
        {members500.map((vals, m) => member(vals, yL, lineL, memberColors[m], "b" + m))}
        {rainMembers.map((vals, m) => member(vals, yR, lineR, memberColors[m], "c" + m))}

        <g fill="none" strokeLinejoin="round">
          <path d={lineL(ctrl850) as string} stroke="#000" strokeWidth={3} />
          <path d={lineL(ctrl500) as string} stroke="#000" strokeWidth={3} />
          <path d={lineR(ctrlRain) as string} stroke="#000" strokeWidth={3} />
          <path d={lineL(mean850) as string} stroke="#ff0000" strokeWidth={4} />
          <path d={lineL(mean500) as string} stroke="#ff0000" strokeWidth={4} />
          <path d={lineR(meanRain) as string} stroke="#ff0000" strokeWidth={4} />
        </g>
      </g>

      {/* panel titles */}
      <text x={60} y={56.5}>Temp. 850hPa</text>
      <text x={60} y={256.5}>Temp. 500hPa</text>
      <text x={59} y={540.5}>Précipitations</text>

      {/* axes labels */}
      {leftTicks.map((v) => (
        <text key={v} x={19.5} y={yL(v) + 5}>{v}</text>
      ))}
      {rightTicks.map((v) => (
        <text key={v} x={709} y={yR(v) + 5.5}>{v}</text>
      ))}
      {dayHours.map((h, k) => (
        <text
          key={h}
          transform={`translate(${x(h) + 10},602) rotate(-90)`}
          textAnchor="end"
          fontSize={9}
        >
          {dayLabels[k]}
        </text>
      ))}
      <text x={20} y={611}>(°C)</text>
      <text x={711} y={611}>(mm)</text>

      {/* legend */}
      <line x1={35} x2={65} y1={640} y2={640} stroke="#ff0000" strokeWidth={4} />
      <text x={74} y={643.5}>Moyenne des scénarios</text>
      <line x1={225} x2={255} y1={640} y2={640} stroke="#000" strokeWidth={4} />
      <text x={265} y={643.5}>Contrôle/Det</text>
      <text x={423} y={656} textAnchor="end">50 Perts.</text>
      {memberColors.map((c, m) => {
        const col = m % 25;
        const row = Math.floor(m / 25);
        const sx = 430 + col * 11;
        return (
          <g key={c + m}>
            <rect x={sx} y={645 + row * 5.5} width={10} height={5.5} fill={c} />
            <text
              x={sx + 5}
              y={row === 0 ? 642.5 : 663.5}
              textAnchor="middle"
              fontSize={8}
              fontWeight="bold"
            >
              {String(m + 1).padStart(2, "0")}
            </text>
          </g>
        );
      })}

      {/* footer */}
      <rect x={20.5} y={667.5} width={419.5} height={31.5} fill="none" stroke="#000" />
      <text x={30} y={682} fontWeight="bold" fontSize={10.5} letterSpacing={0.7}>
        Diagramme ensembles ECMWF/CEP 0.25° sur 360h : 40.6N 22.9E
      </text>
      <text x={30} y={694}>Températures 850hPa et 500hPa (°C) , précipitations (mm)</text>
      <text x={449} y={679.5}>Ensemble ECMWF/CEP du 21/08/2026 - 00Z</text>
      <text x={449} y={695.5} fontWeight="bold" fontSize={10.5} letterSpacing={0.7}>
        Copyright 2026 Meteociel.fr - ECMWF
      </text>
    </svg>
  );
}
